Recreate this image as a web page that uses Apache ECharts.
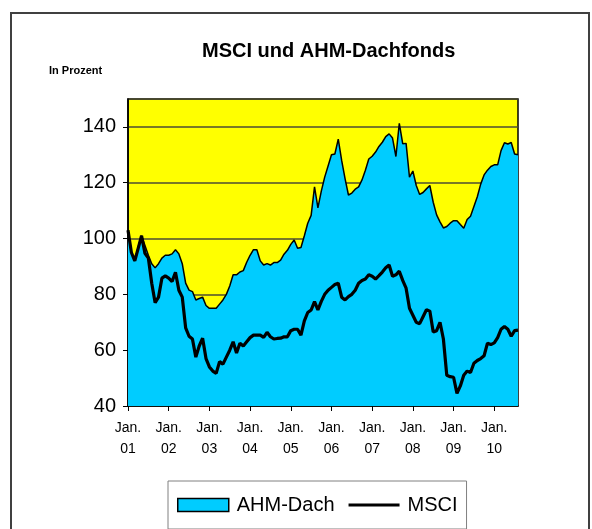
<!DOCTYPE html>
<html>
<head>
<meta charset="utf-8">
<script src="https://cdn.jsdelivr.net/npm/echarts@6/dist/echarts.min.js"></script>
<style>
  html, body { margin: 0; padding: 0; background: #fff; }
  #main { width: 592px; height: 529px; }
</style>
</head>
<body>
<div id="main"></div>
<script>
// monthly values, Jan 2001 .. Aug 2010 (index, 40..150 scale)
const ahmDach = [
  103, 95, 92, 97, 101, 97.5, 94, 91, 89.5, 91,
  93, 94, 94, 94.5, 96, 94.5, 91, 84, 81.5, 81,
  78, 78.5, 79, 76, 75, 75, 75, 76.5, 78, 80,
  83, 87, 87, 88, 88.5, 91.5, 94, 96, 96, 92,
  90.5, 91, 90.5, 91.4, 91.4, 92.3, 94.4, 95.8, 97.9, 99.5,
  96.5, 96.8, 101, 105.5, 108.3, 118.5, 111, 117, 122, 126,
  130, 130.3, 135.6, 128, 121.5, 115.6, 116.3, 117.7, 118.5, 121,
  124.5, 128.5, 129.5, 131, 133, 134.5, 136.5, 137.5, 136, 129.4,
  141.3, 134, 134.1, 122, 124.2, 119, 115.8, 116.5, 117.8, 119,
  113, 108.5, 106, 103.8, 104.3, 105.5, 106.4, 106.4, 105, 103.7,
  106.8, 108, 111.5, 115, 119.5, 122.8, 124.5, 125.8, 126.4, 126.4,
  131.5, 134.3, 133.9, 134.4, 130.3, 130
];

const msci = [
  103, 95, 92, 96.5, 101, 94.7, 93, 84, 77, 79,
  85.8, 86.6, 85.8, 84.6, 87.9, 81.5, 79, 68, 65, 64,
  57.5, 61.5, 64.3, 57, 54, 52.5, 51.7, 55.9, 55, 57.5,
  60, 63, 59, 62.5, 61.5, 63, 64.5, 65.4, 65.4, 65.4,
  64.6, 66.4, 64.8, 64, 64.2, 64.3, 64.8, 64.8, 67, 67.5,
  67.5, 65.4, 70.5, 73.5, 74.4, 77.4, 74.4, 77.5, 80, 81.5,
  82.5, 83.5, 84, 79, 78, 79.2, 80, 81.5, 84, 85,
  85.5, 87, 86.5, 85.5, 86.7, 88, 89.5, 90.5, 86.5, 87,
  88.3, 85, 82.2, 75, 72.5, 70, 69.5, 72, 74.5, 74,
  66.5, 67, 70, 64, 51, 50.5, 50.3, 44.5, 47.2, 51,
  52.5, 52, 55.3, 56.3, 57, 58, 62.5, 62, 62.6, 64.5,
  67.5, 68.5, 67.5, 65, 67, 67.2
];

const months = [];
for (let y = 2001; months.length < ahmDach.length; y++) {
  for (let m = 1; m <= 12 && months.length < ahmDach.length; m++) {
    months.push(y + '-' + String(m).padStart(2, '0'));
  }
}

const font = 'Liberation Sans, Arial, sans-serif';

const chart = echarts.init(document.getElementById('main'));
chart.setOption({
  animation: false,
  backgroundColor: '#fff',
  title: [
    {
      text: 'MSCI und AHM-Dachfonds',
      left: 197, top: 36,
      textStyle: { fontFamily: font, fontSize: 20, fontWeight: 'bold', color: '#000' }
    },
    {
      text: 'In Prozent',
      left: 44, top: 60,
      textStyle: { fontFamily: font, fontSize: 11, fontWeight: 'bold', color: '#000' }
    }
  ],
  graphic: [{
    type: 'rect',
    shape: { x: 11, y: 13, width: 578, height: 530 },
    style: { fill: 'none', stroke: '#404040', lineWidth: 2 },
    silent: true
  }],
  legend: {
    left: 168, top: 481,
    padding: [14, 9, 14, 9],
    borderColor: '#808080', borderWidth: 1,
    itemWidth: 51, itemHeight: 13, itemGap: 14,
    textStyle: { fontFamily: font, fontSize: 20, color: '#000', padding: [0, 0, 0, 3] },
    data: [
      { name: 'AHM-Dach', icon: 'rect', itemStyle: { color: '#00CCFF', borderColor: '#000', borderWidth: 1.5 } },
      { name: 'MSCI', icon: 'path://M0,0 L51,0 L51,3 L0,3 Z', itemStyle: { color: '#000', borderWidth: 0 } }
    ]
  },
  grid: {
    left: 128, top: 99, width: 390, height: 307,
    show: true, backgroundColor: '#FFFF00', borderColor: '#000', borderWidth: 1.5
  },
  xAxis: {
    type: 'category',
    boundaryGap: false,
    data: months,
    axisLine: { lineStyle: { color: '#000', width: 1.5 } },
    axisTick: { interval: (i) => i % 12 === 0, length: 5, lineStyle: { color: '#000' } },
    axisLabel: {
      interval: (i) => i % 12 === 0,
      margin: 12,
      lineHeight: 21,
      fontFamily: font, fontSize: 14, color: '#000',
      formatter: (v) => 'Jan.\n' + v.slice(2, 4)
    },
    splitLine: { show: false }
  },
  yAxis: {
    type: 'value',
    min: 40, max: 150, interval: 20,
    axisLine: { show: true, lineStyle: { color: '#000', width: 1.5 } },
    axisTick: { show: true, length: 5, lineStyle: { color: '#000' } },
    axisLabel: { showMaxLabel: false, margin: 12, fontFamily: font, fontSize: 20, color: '#000' },
    splitLine: { lineStyle: { color: '#4d4d33', width: 1.5 } }
  },
  series: [
    {
      name: 'AHM-Dach',
      type: 'line',
      data: ahmDach,
      symbol: 'none',
      z: 2,
      lineStyle: { color: '#000', width: 1.5 },
      itemStyle: { color: '#00CCFF' },
      areaStyle: { color: '#00CCFF', opacity: 1, origin: 'start' }
    },
    {
      name: 'MSCI',
      type: 'line',
      data: msci,
      symbol: 'none',
      z: 3,
      lineStyle: { color: '#000', width: 3.2 },
      itemStyle: { color: '#000' }
    }
  ]
});
</script>
</body>
</html>
